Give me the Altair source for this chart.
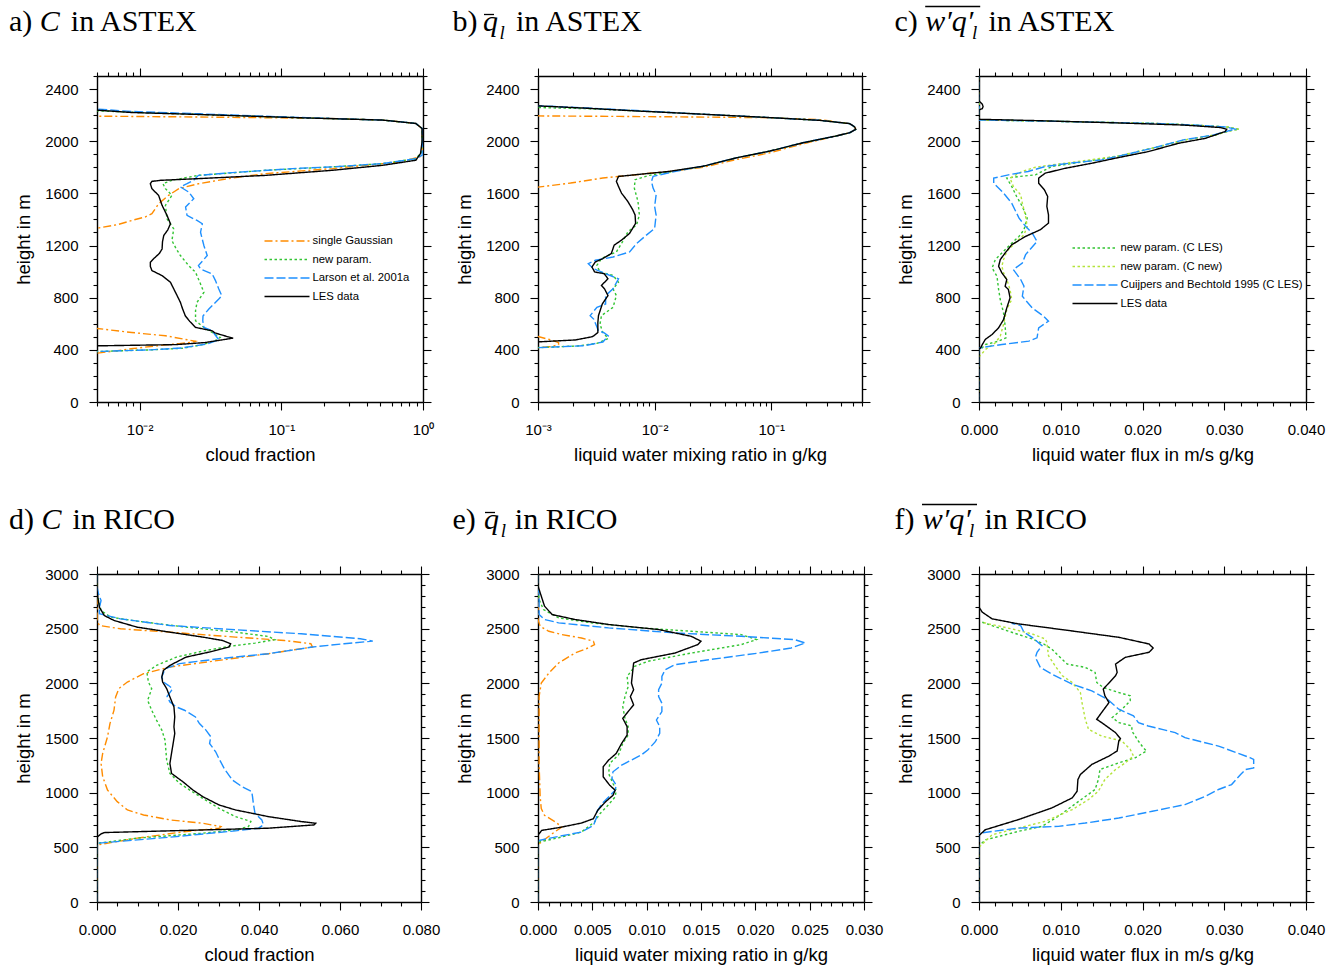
import altair as alt
import pandas as pd

# ---------------- colours / styles ----------------
ORANGE = "#FF8C00"
GREEN = "#33C433"
BLUE = "#1E90FF"
YGREEN = "#B4E33A"
BLACK = "#000000"
DASH_DOT = [8, 3, 2, 3]
DOT = [2.5, 2.5]
DASH = [9, 3]
SOLID = [1, 0]

# ---------------- a) cloud fraction, ASTEX (log x) ----------------
A_GAUSS_H = [360, 374, 390, 410, 430, 448, 460, 466, 480, 508, 533, 564, 585,
             1300, 1333, 1360, 1392, 1420, 1444, 1520, 1585, 1636, 1674, 1718, 1751, 1790, 1841, 1880, 1920,
             2097, 2136, 2162, 2174, 2185, 2192, 2195]
A_GAUSS_V = [0.003, 0.005, 0.0065, 0.009, 0.013, 0.019, 0.024, 0.0248, 0.021, 0.0152, 0.0088, 0.005, 0.001,
             0.001, 0.005, 0.007, 0.0088, 0.011, 0.0122, 0.0136, 0.016, 0.0189, 0.026, 0.045, 0.077, 0.23, 0.68, 0.95, 0.985,
             0.985, 0.89, 0.52, 0.23, 0.03, 0.005, 0.003]
A_NEW_H = [375, 387, 400, 412, 440, 469, 495, 533, 572, 623, 700, 764, 841, 905, 995, 1046, 1123, 1180, 1238,
           1328, 1405, 1508, 1585, 1636, 1674, 1700, 1738, 1777, 1803, 1828, 1866, 1918, 1995, 2097, 2136, 2162,
           2180, 2205, 2222, 2233, 2245]
A_NEW_V = [0.002, 0.005, 0.012, 0.02, 0.028, 0.034, 0.037, 0.0325, 0.0284, 0.0248, 0.0248, 0.0254, 0.0284, 0.0269,
           0.0248, 0.0222, 0.0194, 0.018, 0.0169, 0.0174, 0.0156, 0.0152, 0.0169, 0.0152, 0.0146, 0.0169, 0.026,
           0.0775, 0.23, 0.52, 0.89, 0.98, 0.985, 0.985, 0.89, 0.52, 0.133, 0.026, 0.0088, 0.005, 0.003]
A_LARSON_H = [375, 387, 400, 415, 445, 477, 546, 572, 623, 660, 713, 790, 815, 867, 931, 982, 1020, 1046, 1123,
              1200, 1302, 1367, 1392, 1431, 1495, 1559, 1610, 1649, 1674, 1700, 1738, 1759, 1790, 1803, 1828, 1866,
              1892, 1995, 2097, 2136, 2162, 2182, 2210, 2228, 2246, 2255]
A_LARSON_V = [0.002, 0.005, 0.012, 0.02, 0.03, 0.0362, 0.0325, 0.0284, 0.0279, 0.028, 0.0308, 0.0362, 0.038,
              0.0362, 0.0343, 0.0325, 0.0269, 0.026, 0.030, 0.0284, 0.0269, 0.0277, 0.0254, 0.0216, 0.0211, 0.0241,
              0.0222, 0.0194, 0.0216, 0.024, 0.026, 0.045, 0.12, 0.23, 0.52, 0.89, 0.985, 0.99, 0.99, 0.89, 0.52,
              0.133, 0.026, 0.0088, 0.005, 0.003]
A_LES_H = [425, 432, 440, 456, 490, 500, 530, 546, 572, 620, 661, 720, 764, 841, 918, 969, 1008, 1040, 1072, 1097,
           1140, 1174, 1230, 1277, 1320, 1367, 1431, 1508, 1585, 1636, 1674, 1692, 1700, 1713, 1738, 1777, 1815,
           1854, 1905, 1995, 2097, 2136, 2162, 2180, 2205, 2220, 2238, 2250]
A_LES_V = [0.002, 0.006, 0.018, 0.029, 0.0457, 0.042, 0.034, 0.0325, 0.0248, 0.0225, 0.021, 0.020, 0.0194, 0.0179,
           0.0165, 0.0144, 0.0122, 0.0119, 0.0119, 0.0125, 0.0138, 0.0144, 0.0145, 0.0148, 0.0158, 0.0165, 0.0156,
           0.0144, 0.0136, 0.0122, 0.0119, 0.0122, 0.014, 0.0261, 0.0775, 0.2296, 0.519, 0.89, 0.96, 0.985, 0.985,
           0.89, 0.52, 0.133, 0.026, 0.0088, 0.005, 0.003]

# ---------------- b) liquid water, ASTEX (log x) ----------------
B_GAUSS_H = [410, 417, 425, 440, 456, 475, 502, 510,
             1640, 1648, 1679, 1718, 1743, 1769, 1800, 1859, 1911, 1980, 2040, 2065, 2090, 2109, 2135, 2165, 2180,
             2186, 2190, 2194, 2196]
B_GAUSS_V = [0.0008, 0.001, 0.0013, 0.0015, 0.0015, 0.0013, 0.001, 0.0008,
             0.0008, 0.001, 0.0019, 0.0036, 0.0069, 0.0135, 0.026, 0.05, 0.097, 0.187, 0.36, 0.47, 0.53, 0.52, 0.47,
             0.26, 0.097, 0.02, 0.005, 0.001, 0.0008]
B_NEW_H = [410, 417, 430, 450, 487, 533, 597, 662, 726, 816, 868, 919, 971, 997, 1048, 1100, 1151, 1228, 1305, 1357,
           1434, 1537, 1640, 1705, 1738, 1764, 1808, 1872, 1924, 1988, 2040, 2065, 2090, 2109, 2135, 2160, 2181,
           2207, 2232, 2250, 2258, 2265]
B_NEW_V = [0.0008, 0.001, 0.0022, 0.0032, 0.004, 0.0036, 0.0034, 0.0035, 0.0044, 0.0047, 0.0044, 0.0049, 0.0044,
           0.0034, 0.0032, 0.0035, 0.0047, 0.0053, 0.0059, 0.007, 0.0074, 0.0072, 0.0067, 0.0068, 0.009, 0.0135,
           0.026, 0.05, 0.097, 0.187, 0.36, 0.47, 0.53, 0.52, 0.47, 0.26, 0.097, 0.026, 0.007, 0.0026, 0.001, 0.0008]
B_LARSON_H = [410, 417, 432, 460, 507, 530, 546, 636, 662, 726, 752, 816, 868, 945, 984, 1022, 1061, 1087, 1112,
              1151, 1215, 1280, 1331, 1434, 1499, 1589, 1640, 1692, 1730, 1756, 1790, 1808, 1872, 1924, 1988, 2040,
              2065, 2090, 2109, 2135, 2160, 2181, 2207, 2235, 2255, 2272, 2280]
B_LARSON_V = [0.0008, 0.001, 0.0025, 0.0036, 0.004, 0.0037, 0.0033, 0.003, 0.0028, 0.0032, 0.0038, 0.0038, 0.0044,
              0.0049, 0.0038, 0.003, 0.0027, 0.0031, 0.0044, 0.0061, 0.007, 0.0085, 0.01, 0.0103, 0.01, 0.0103,
              0.0097, 0.0094, 0.0097, 0.013, 0.02, 0.026, 0.05, 0.097, 0.187, 0.36, 0.47, 0.53, 0.52, 0.47, 0.26,
              0.097, 0.026, 0.007, 0.0026, 0.001, 0.0008]
B_LES_H = [455, 461, 476, 500, 507, 533, 610, 662, 752, 816, 868, 894, 945, 984, 997, 1035, 1074, 1100, 1138, 1203,
           1241, 1293, 1370, 1434, 1473, 1537, 1602, 1653, 1692, 1730, 1743, 1769, 1808, 1872, 1924, 1988, 2040,
           2065, 2090, 2109, 2135, 2160, 2181, 2207, 2232, 2253, 2271, 2280]
B_LES_V = [0.0008, 0.001, 0.0021, 0.0029, 0.003, 0.00326, 0.00326, 0.0033, 0.00356, 0.00398, 0.00372, 0.0035,
           0.00398, 0.0037, 0.00306, 0.0029, 0.0031, 0.0036, 0.00425, 0.0045, 0.0052, 0.0061, 0.00687, 0.0068,
           0.0065, 0.0059, 0.0052, 0.0049, 0.0047, 0.0049, 0.0069, 0.0135, 0.026, 0.05, 0.097, 0.187, 0.36, 0.47,
           0.53, 0.52, 0.47, 0.26, 0.097, 0.026, 0.007, 0.0026, 0.001, 0.0008]

# ---------------- c) liquid water flux, ASTEX ----------------
C_NEWLES_H = [0, 395, 403, 441, 467, 492, 582, 684, 786, 862, 964, 1028, 1092, 1143, 1206, 1270, 1321, 1410, 1500,
              1576, 1653, 1717, 1729, 1742, 1780, 1806, 1844, 1887, 1946, 2010, 2048, 2086, 2091, 2108, 2125, 2137,
              2153, 2163, 2500]
C_NEWLES_V = [0, 0, 0.0002, 0.0008, 0.0024, 0.0033, 0.0032, 0.003, 0.0026, 0.0024, 0.0022, 0.0016, 0.002, 0.0028,
              0.0038, 0.0049, 0.0055, 0.0059, 0.0053, 0.0046, 0.004, 0.0034, 0.0049, 0.0069, 0.0081, 0.0089, 0.013,
              0.0171, 0.0212, 0.0252, 0.0289, 0.0311, 0.0318, 0.0305, 0.026, 0.0212, 0.0089, 0, 0]
C_NEWNEW_H = [0, 345, 352, 403, 454, 505, 594, 709, 786, 862, 939, 990, 1041, 1092, 1155, 1219, 1283, 1347, 1423,
              1525, 1589, 1653, 1717, 1768, 1800, 1810, 1852, 1887, 1946, 2010, 2048, 2086, 2091, 2108, 2125, 2137,
              2153, 2163, 2500]
C_NEWNEW_V = [0, 0, 0.0001, 0.0008, 0.002, 0.0026, 0.003, 0.0034, 0.004, 0.0038, 0.0034, 0.003, 0.0028, 0.003,
              0.0034, 0.0044, 0.0055, 0.0059, 0.0057, 0.0053, 0.0051, 0.0042, 0.0038, 0.0053, 0.0069, 0.008, 0.013,
              0.0171, 0.0212, 0.0252, 0.0289, 0.0311, 0.0318, 0.0305, 0.026, 0.0212, 0.0089, 0, 0]
C_CB_H = [0, 410, 416, 441, 467, 492, 569, 620, 658, 722, 811, 888, 939, 1015, 1066, 1130, 1232, 1296, 1347, 1410,
          1525, 1602, 1678, 1717, 1742, 1768, 1806, 1831, 1857, 1900, 1946, 2010, 2048, 2086, 2091, 2108, 2125,
          2137, 2153, 2163, 2500]
C_CB_V = [0, 0, 0.0002, 0.0028, 0.0061, 0.0071, 0.0073, 0.0085, 0.0079, 0.0065, 0.0053, 0.0055, 0.0051, 0.0042,
          0.0053, 0.0057, 0.0071, 0.0065, 0.0057, 0.0049, 0.004, 0.003, 0.0018, 0.0018, 0.0036, 0.006, 0.0081,
          0.011, 0.015, 0.0181, 0.0212, 0.025, 0.0287, 0.0309, 0.0315, 0.0303, 0.026, 0.0212, 0.0089, 0, 0]
C_LES_H = [0, 405, 416, 440, 480, 518, 569, 632, 722, 798, 862, 888, 939, 990, 1041, 1092, 1143, 1206, 1270, 1321,
           1372, 1436, 1500, 1576, 1627, 1678, 1717, 1755, 1793, 1831, 1875, 1920, 1984, 2022, 2074, 2092, 2105,
           2124, 2140, 2158, 2168, 2239, 2250, 2265, 2285, 2303, 2310, 2500]
C_LES_V = [0, 0, 0.0002, 0.0004, 0.00077, 0.0016, 0.0024, 0.003, 0.0034, 0.0038, 0.0036, 0.0032, 0.0034, 0.0028,
           0.0024, 0.0026, 0.0032, 0.004, 0.0057, 0.0075, 0.0085, 0.0085, 0.0083, 0.0084, 0.008, 0.0073, 0.0073,
           0.0081, 0.0106, 0.0138, 0.0171, 0.0207, 0.0244, 0.0277, 0.0301, 0.0303, 0.0295, 0.025, 0.0171, 0.0069,
           0, 0, 0.0004, 0.0005, 0.0004, 0.0001, 0, 0]

# ---------------- d) cloud fraction, RICO ----------------
D_GAUSS_H = [0, 515, 523, 584, 645, 675, 690, 720, 751, 796, 842, 918, 1024, 1146, 1268, 1359, 1511, 1632, 1754,
             1876, 1952, 2012, 2088, 2149, 2210, 2271, 2332, 2362, 2392, 2423, 2468, 2499, 2529, 2575, 3000]
D_GAUSS_V = [0, 0, 0.0003, 0.0099, 0.022, 0.0301, 0.0306, 0.0261, 0.018, 0.0115, 0.0075, 0.005, 0.0026, 0.0014,
             0.001, 0.0014, 0.0026, 0.0032, 0.0042, 0.0046, 0.0054, 0.0075, 0.0115, 0.018, 0.0301, 0.0423, 0.0532,
             0.0528, 0.0463, 0.0342, 0.018, 0.0058, 0.0006, 0, 0]
D_NEW_H = [0, 530, 538, 584, 629, 660, 690, 736, 781, 857, 948, 1024, 1085, 1176, 1298, 1389, 1480, 1572, 1663, 1754,
           1845, 1906, 1952, 2012, 2104, 2164, 2240, 2295, 2338, 2368, 2399, 2429, 2468, 2514, 2569, 2605, 2666,
           2788, 2850, 3000]
D_NEW_V = [0, 0, 0.0003, 0.0099, 0.0261, 0.0342, 0.0374, 0.038, 0.0342, 0.0301, 0.0261, 0.0229, 0.0204, 0.018,
           0.0172, 0.017, 0.0168, 0.016, 0.0147, 0.0135, 0.0125, 0.0131, 0.0135, 0.0127, 0.0123, 0.0147, 0.0196,
           0.0261, 0.0326, 0.039, 0.0439, 0.0423, 0.0342, 0.022, 0.0099, 0.0034, 0.001, 0.0002, 0, 0]
D_LARSON_H = [0, 530, 538, 593, 651, 675, 705, 751, 812, 903, 964, 1009, 1055, 1116, 1222, 1313, 1374, 1435, 1450,
              1511, 1572, 1632, 1693, 1754, 1784, 1830, 1882, 1936, 1952, 1982, 2012, 2058, 2134, 2180, 2225, 2271,
              2332, 2362, 2386, 2408, 2453, 2490, 2529, 2590, 2636, 2696, 2757, 2818, 2879, 3000]
D_LARSON_V = [0, 0, 0.0003, 0.018, 0.0342, 0.0399, 0.0411, 0.0407, 0.039, 0.0386, 0.0384, 0.0382, 0.0358, 0.0334,
              0.0314, 0.0301, 0.0293, 0.0281, 0.0278, 0.0281, 0.0269, 0.0253, 0.0243, 0.0216, 0.0196, 0.018, 0.0173,
              0.0184, 0.0186, 0.0176, 0.0164, 0.016, 0.0168, 0.0204, 0.0301, 0.0423, 0.0532, 0.061, 0.0681, 0.065,
              0.0504, 0.0342, 0.018, 0.0058, 0.0006, 0.0006, 0.001, 0.0004, 0, 0]
D_LES_H = [0, 590, 599, 623, 635, 651, 675, 705, 720, 736, 781, 812, 842, 888, 964, 1024, 1100, 1176, 1268, 1359,
           1450, 1541, 1602, 1693, 1784, 1876, 1952, 2012, 2058, 2119, 2164, 2240, 2286, 2332, 2362, 2392, 2423,
           2468, 2514, 2575, 2620, 2696, 2788, 2850, 3000]
D_LES_V = [0, 0, 0.0002, 0.001, 0.0018, 0.018, 0.0423, 0.0536, 0.054, 0.0504, 0.0423, 0.0382, 0.0342, 0.0301,
           0.0261, 0.0237, 0.0212, 0.0184, 0.018, 0.0184, 0.0188, 0.0192, 0.019, 0.0192, 0.019, 0.018, 0.0172,
           0.0162, 0.016, 0.0164, 0.018, 0.022, 0.0277, 0.0326, 0.033, 0.031, 0.0261, 0.018, 0.0099, 0.0042, 0.0018,
           0.0006, 0.0002, 0, 0]

# ---------------- e) liquid water, RICO ----------------
E_GAUSS_H = [0, 525, 533, 624, 686, 732, 793, 854, 961, 1267, 1879, 2002, 2094, 2186, 2277, 2323, 2354, 2385, 2415,
             2446, 2476, 2522, 2583, 3000]
E_GAUSS_V = [0, 0, 0.0001, 0.0013, 0.0022, 0.0016, 0.0006, 0.0003, 0.0002, 0.0001, 0.0001, 0.0003, 0.001, 0.0019,
             0.0034, 0.0046, 0.0052, 0.0051, 0.004, 0.0022, 0.001, 0.0002, 0, 0]
E_NEW_H = [0, 540, 548, 588, 640, 732, 808, 869, 961, 1022, 1084, 1175, 1267, 1344, 1451, 1527, 1604, 1680, 1788,
           1879, 1971, 2063, 2155, 2201, 2277, 2354, 2400, 2446, 2476, 2507, 2553, 2599, 2675, 2767, 2850, 3000]
E_NEW_V = [0, 0, 0.0001, 0.0019, 0.004, 0.0052, 0.0057, 0.0063, 0.0071, 0.0072, 0.0069, 0.0065, 0.0066, 0.0074,
           0.0078, 0.0083, 0.0083, 0.008, 0.0078, 0.008, 0.0083, 0.0082, 0.0089, 0.0101, 0.0141, 0.0187, 0.0201,
           0.0187, 0.0141, 0.0095, 0.0049, 0.0019, 0.0005, 0.0001, 0, 0]
E_LARSON_H = [0, 555, 563, 600, 640, 701, 777, 823, 900, 961, 1022, 1068, 1130, 1191, 1252, 1298, 1344, 1390, 1466,
              1543, 1604, 1665, 1742, 1818, 1879, 1941, 2002, 2063, 2124, 2170, 2216, 2277, 2323, 2369, 2400, 2430,
              2461, 2507, 2553, 2584, 2629, 2828, 2850, 3000]
E_LARSON_V = [0, 0, 0.0001, 0.0019, 0.004, 0.0051, 0.0054, 0.0054, 0.0059, 0.0065, 0.0071, 0.0072, 0.0068, 0.0069,
              0.0077, 0.0086, 0.0095, 0.0101, 0.0108, 0.0112, 0.0112, 0.0109, 0.0114, 0.0114, 0.0111, 0.0111, 0.0114,
              0.0114, 0.0117, 0.0126, 0.0157, 0.0203, 0.0233, 0.0246, 0.0236, 0.0187, 0.0126, 0.0065, 0.0019, 0.0006,
              0.0001, 0.0001, 0, 0]
E_LES_H = [0, 615, 624, 655, 680, 722, 762, 839, 915, 976, 1022, 1068, 1145, 1237, 1298, 1359, 1451, 1527, 1604, 1680,
           1742, 1803, 1879, 1941, 2002, 2094, 2186, 2216, 2277, 2354, 2385, 2430, 2492, 2538, 2584, 2629, 2706,
           2798, 2890, 3000]
E_LES_V = [0, 0, 0.0001, 0.00034, 0.0019, 0.004, 0.0051, 0.0055, 0.0062, 0.0069, 0.0071, 0.0066, 0.006, 0.006,
           0.0065, 0.0072, 0.0077, 0.0082, 0.0082, 0.0078, 0.0083, 0.0088, 0.0085, 0.0088, 0.0086, 0.0087, 0.0088,
           0.0095, 0.0126, 0.0147, 0.015, 0.0141, 0.0111, 0.0065, 0.0034, 0.0013, 0.0006, 0.0003, 0, 0]

# ---------------- f) liquid water flux, RICO ----------------
F_NEWLES_H = [0, 515, 523, 569, 646, 692, 784, 921, 1029, 1120, 1212, 1273, 1319, 1381, 1411, 1472, 1564, 1610,
              1641, 1687, 1763, 1840, 1886, 1916, 1962, 2008, 2100, 2146, 2176, 2253, 2314, 2360, 2406, 2467, 2528,
              2559]
F_NEWLES_V = [0, 0, 0.0001, 0.0008, 0.0048, 0.0077, 0.0097, 0.0122, 0.0142, 0.0146, 0.0148, 0.0171, 0.0191, 0.0205,
              0.0201, 0.0195, 0.0187, 0.0187, 0.0171, 0.0163, 0.0175, 0.0185, 0.0185, 0.0171, 0.0152, 0.0144, 0.0142,
              0.013, 0.0108, 0.0097, 0.0089, 0.0079, 0.0065, 0.004, 0.0016, 0.0004]
F_NEWNEW_H = [0, 500, 508, 615, 676, 738, 845, 937, 1013, 1120, 1212, 1273, 1335, 1396, 1472, 1518, 1579, 1671, 1824,
              1916, 2008, 2069, 2161, 2253, 2375, 2406, 2452, 2498, 2544, 2559]
F_NEWNEW_V = [0, 0, 0.0001, 0.0016, 0.0048, 0.0081, 0.0114, 0.0134, 0.0146, 0.0154, 0.0167, 0.0179, 0.0189, 0.0185,
              0.0175, 0.015, 0.0134, 0.013, 0.0126, 0.0124, 0.0114, 0.0102, 0.0093, 0.0085, 0.0083, 0.0081, 0.0065,
              0.004, 0.0012, 0.0004]
F_CB_H = [0, 620, 631, 676, 692, 722, 768, 830, 891, 967, 1029, 1074, 1166, 1212, 1227, 1304, 1319, 1426, 1503, 1549,
          1579, 1610, 1641, 1702, 1763, 1855, 1931, 1993, 2085, 2146, 2238, 2284, 2345, 2421, 2467, 2528, 2550]
F_CB_V = [0, 0, 0.0002, 0.0048, 0.0097, 0.013, 0.0171, 0.0212, 0.0252, 0.0277, 0.0293, 0.0309, 0.032, 0.0326,
          0.0336, 0.0336, 0.0332, 0.0293, 0.0252, 0.024, 0.0224, 0.0207, 0.0195, 0.0189, 0.0171, 0.0157, 0.0138,
          0.0114, 0.0089, 0.0075, 0.0069, 0.0071, 0.0077, 0.0065, 0.0055, 0.0051, 0.004]
F_LES_H = [0, 605, 615, 661, 753, 860, 952, 1013, 1120, 1166, 1258, 1335, 1381, 1472, 1494, 1549, 1641, 1671, 1733,
           1824, 1886, 1947, 2069, 2100, 2176, 2238, 2284, 2323, 2360, 2421, 2483, 2544, 2590, 2651, 2697, 3000]
F_LES_V = [0, 0, 0.0001, 0.00077, 0.0048, 0.0089, 0.0114, 0.012, 0.0121, 0.0124, 0.0138, 0.0159, 0.0169, 0.0171,
           0.0173, 0.0167, 0.015, 0.0144, 0.015, 0.0159, 0.0154, 0.0152, 0.0167, 0.0169, 0.0167, 0.0179, 0.0208,
           0.0213, 0.0208, 0.0171, 0.011, 0.0048, 0.0016, 0.0004, 0, 0]

# ---------------- labels ----------------
N_GAUSS = "single Gaussian"
N_NEW = "new param."
N_LARSON = "Larson et al. 2001a"
N_LES = "LES data"
N_NEWLES = "new param. (C LES)"
N_NEWNEW = "new param. (C new)"
N_CB = "Cuijpers and Bechtold 1995 (C LES)"

# panel titles: pieces (text, italic, font size, x offset, baseline shift)
T_A = [("a)", False, 30, 0, 0), ("C", True, 30, 30.8, 0), ("in ASTEX", False, 30, 61.8, 0)]
T_B = [("b)", False, 30, 0, 0), ("q", True, 30, 30.5, 0), ("l", True, 19, 47.0, 8), ("in ASTEX", False, 30, 63.5, 0)]
T_C = [("c)", False, 30, 0, 0), ("w\u2032q\u2032", True, 30, 30.7, 0), ("l", True, 19, 77.5, 8),
       ("in ASTEX", False, 30, 94, 0)]
T_D = [("d)", False, 30, 0, 0), ("C", True, 30, 32.5, 0), ("in RICO", False, 30, 63.5, 0)]
T_E = [("e)", False, 30, 0, 0), ("q", True, 30, 31.6, 0), ("l", True, 19, 48.3, 8), ("in RICO", False, 30, 62.3, 0)]
T_F = [("f)", False, 30, 0, 0), ("w\u2032q\u2032", True, 30, 28.3, 0), ("l", True, 19, 74.5, 8),
       ("in RICO", False, 30, 90, 0)]
BAR_B = (31.5, 41.5, -16)      # macron over q
BAR_E = (32.5, 42.5, -16)
BAR_C = (30.7, 85.7, -24)      # overline over w'q'_l
BAR_F = (27.5, 82.5, -24)

SANS = "Liberation Sans"
SERIF = "Liberation Serif"
TITLE_BASE_Y = -45.5


def build_df(series):
    rows = []
    for name, hs, vs in series:
        for i, (h, v) in enumerate(zip(hs, vs)):
            rows.append({"h": h, "v": v, "s": name, "o": i})
    return pd.DataFrame(rows)


def lin_vals(stop, step):
    n = int(round(stop / step))
    return [round(i * step, 6) for i in range(n + 1)]


def log_vals(lo, hi):
    out = []
    for e in range(-4, 1):
        for k in range(1, 10):
            v = float(f"{k}e{e}")
            if lo - 1e-12 <= v <= hi + 1e-12:
                out.append(v)
    return out


def lin_test(step):
    return f"abs(datum.value/{step} - round(datum.value/{step})) < 1e-6"


LOG_TEST = "abs(log(datum.value)/LN10 - round(log(datum.value)/LN10)) < 1e-6"


def tick_size(test):
    return {"condition": {"test": test, "value": 8}, "value": 4}


def axis_common(values, test):
    return dict(values=values, tickSize=tick_size(test), tickColor="black", tickWidth=1.1,
                domainColor="black", domainWidth=1.4, grid=False)


def title_layers(pieces, bar, x0):
    layers = []
    for text, italic, size, dx, dy in pieces:
        layers.append(
            alt.Chart(pd.DataFrame({"t": [text]})).mark_text(
                align="left", baseline="alphabetic", font=SERIF, fontSize=size,
                fontStyle="italic" if italic else "normal", color="black",
            ).encode(text="t:N", x=alt.value(x0 + dx), y=alt.value(TITLE_BASE_Y + dy))
        )
    if bar is not None:
        layers.append(
            alt.Chart(pd.DataFrame({"t": [0]})).mark_rule(color="black", strokeWidth=1.3).encode(
                x=alt.value(x0 + bar[0]), x2=alt.value(x0 + bar[1]), y=alt.value(TITLE_BASE_Y + bar[2]))
        )
    return layers


def panel(series, names, colors, dashes, xscale, xvals, xtest, xlabel_expr, xtitle,
          yscale, yvals, ytest, tpieces, tbar, tx0, legend=None, width=326, height=326):
    df = build_df(series)
    xb = alt.Axis(orient="bottom", labelExpr=xlabel_expr, labelFont=SANS, labelFontSize=15, labelColor="black",
                  labelPadding=12, labelOverlap=False, labelFlush=False, labelBound=False,
                  title=xtitle, titleFont=SANS, titleFontSize=18.5, titleFontWeight="normal",
                  titleColor="black", titlePadding=8, **axis_common(xvals, xtest))
    yl = alt.Axis(orient="left", labelExpr="(" + ytest + ") ? format(datum.value, 'd') : ''",
                  labelFont=SANS, labelFontSize=15, labelColor="black", labelPadding=11,
                  labelOverlap=False, labelFlush=False, labelBound=False,
                  title="height in m", titleFont=SANS, titleFontSize=18.5, titleFontWeight="normal",
                  titleColor="black", titlePadding=11, **axis_common(yvals, ytest))
    xt = alt.Axis(orient="top", labels=False, title=None, **axis_common(xvals, xtest))
    yr = alt.Axis(orient="right", labels=False, title=None, **axis_common(yvals, ytest))

    if legend is None:
        leg = None
    else:
        # a long horizontal stroke drawn by a custom path outside the unit square,
        # so that the entry height stays small while the line sample is ~45 px long
        leg = alt.Legend(orient="none", legendX=legend[0], legendY=legend[1], title=None,
                         symbolType="M-2.25,0L2.25,0", symbolSize=400, symbolStrokeWidth=1.5,
                         labelFont=SANS, labelFontSize=11.3, labelColor="black", labelLimit=400,
                         rowPadding=1.5, labelOffset=14.5, padding=0, symbolOffset=0)

    lines = alt.Chart(df).mark_line(clip=True, strokeWidth=1.4).encode(
        x=alt.X("v:Q", scale=xscale, axis=xb),
        y=alt.Y("h:Q", scale=yscale, axis=yl),
        color=alt.Color("s:N", scale=alt.Scale(domain=names, range=colors), legend=leg),
        strokeDash=alt.StrokeDash("s:N", scale=alt.Scale(domain=names, range=dashes), legend=leg),
        order=alt.Order("o:Q"),
    )
    ghost = alt.Chart(df).mark_line(clip=True, strokeOpacity=0).encode(
        x=alt.X("v:Q", scale=xscale, axis=xt),
        y=alt.Y("h:Q", scale=yscale, axis=yr),
        detail="s:N",
        order=alt.Order("o:Q"),
    )
    return alt.layer(lines, ghost, *title_layers(tpieces, tbar, tx0)).resolve_axis(
        x="independent", y="independent").properties(width=width, height=height)


names_ab = [N_GAUSS, N_NEW, N_LARSON, N_LES]
cols_ab = [ORANGE, GREEN, BLUE, BLACK]
dash_ab = [DASH_DOT, DOT, DASH, SOLID]
names_cf = [N_NEWLES, N_NEWNEW, N_CB, N_LES]
cols_cf = [GREEN, YGREEN, BLUE, BLACK]
dash_cf = [DOT, DOT, DASH, SOLID]

y_astex = alt.Scale(domain=[0, 2500], nice=False, zero=False)
y_rico = alt.Scale(domain=[0, 3000], nice=False, zero=False)
yv_astex = lin_vals(2500, 100)
yv_rico = lin_vals(3000, 100)
yt_astex = lin_test(400)
yt_rico = lin_test(500)


def log_label(exps):
    m = {0: "10\u2070", -1: "10\u207b\u00b9", -2: "10\u207b\u00b2", -3: "10\u207b\u00b3"}
    e = "round(log(datum.value)/LN10)"
    expr = "''"
    for k in exps:
        expr = f"({e} == {k} ? '{m[k]}' : {expr})"
    return f"({LOG_TEST}) ? {expr} : ''"


def lin_label(step):
    return f"({lin_test(step)}) ? format(datum.value, '.3f') : ''"


X0_COL1, X0_COL2, X0_COL3 = -88, -85.5, -84.5

pa = panel([(N_GAUSS, A_GAUSS_H, A_GAUSS_V), (N_NEW, A_NEW_H, A_NEW_V), (N_LARSON, A_LARSON_H, A_LARSON_V),
            (N_LES, A_LES_H, A_LES_V)],
           names_ab, cols_ab, dash_ab,
           alt.Scale(type="log", domain=[0.005, 1], nice=False), log_vals(0.005, 1), LOG_TEST,
           log_label([0, -1, -2]), "cloud fraction",
           y_astex, yv_astex, yt_astex, T_A, None, X0_COL1, legend=(179, 154), width=326)

pb = panel([(N_GAUSS, B_GAUSS_H, B_GAUSS_V), (N_NEW, B_NEW_H, B_NEW_V), (N_LARSON, B_LARSON_H, B_LARSON_V),
            (N_LES, B_LES_H, B_LES_V)],
           names_ab, cols_ab, dash_ab,
           alt.Scale(type="log", domain=[0.001, 0.6], nice=False), log_vals(0.001, 0.6), LOG_TEST,
           log_label([-1, -2, -3]), "liquid water mixing ratio in g/kg",
           y_astex, yv_astex, yt_astex, T_B, BAR_B, X0_COL2, width=324)

pc = panel([(N_NEWLES, C_NEWLES_H, C_NEWLES_V), (N_NEWNEW, C_NEWNEW_H, C_NEWNEW_V), (N_CB, C_CB_H, C_CB_V),
            (N_LES, C_LES_H, C_LES_V)],
           names_cf, cols_cf, dash_cf,
           alt.Scale(domain=[0, 0.04], nice=False, zero=False), lin_vals(0.04, 0.002), lin_test(0.01),
           lin_label(0.01), "liquid water flux in m/s g/kg",
           y_astex, yv_astex, yt_astex, T_C, BAR_C, X0_COL3, legend=(105, 161), width=327)

pd_ = panel([(N_GAUSS, D_GAUSS_H, D_GAUSS_V), (N_NEW, D_NEW_H, D_NEW_V), (N_LARSON, D_LARSON_H, D_LARSON_V),
             (N_LES, D_LES_H, D_LES_V)],
            names_ab, cols_ab, dash_ab,
            alt.Scale(domain=[0, 0.08], nice=False, zero=False), lin_vals(0.08, 0.005), lin_test(0.02),
            lin_label(0.02), "cloud fraction",
            y_rico, yv_rico, yt_rico, T_D, None, X0_COL1, width=324, height=328)

pe = panel([(N_GAUSS, E_GAUSS_H, E_GAUSS_V), (N_NEW, E_NEW_H, E_NEW_V), (N_LARSON, E_LARSON_H, E_LARSON_V),
            (N_LES, E_LES_H, E_LES_V)],
           names_ab, cols_ab, dash_ab,
           alt.Scale(domain=[0, 0.03], nice=False, zero=False), lin_vals(0.03, 0.001), lin_test(0.005),
           lin_label(0.005), "liquid water mixing ratio in g/kg",
           y_rico, yv_rico, yt_rico, T_E, BAR_E, X0_COL2, width=326, height=328)

pf = panel([(N_NEWLES, F_NEWLES_H, F_NEWLES_V), (N_NEWNEW, F_NEWNEW_H, F_NEWNEW_V), (N_CB, F_CB_H, F_CB_V),
            (N_LES, F_LES_H, F_LES_V)],
           names_cf, cols_cf, dash_cf,
           alt.Scale(domain=[0, 0.04], nice=False, zero=False), lin_vals(0.04, 0.002), lin_test(0.01),
           lin_label(0.01), "liquid water flux in m/s g/kg",
           y_rico, yv_rico, yt_rico, T_F, BAR_F, X0_COL3, width=327, height=328)

chart = alt.concat(pa, pb, pc, pd_, pe, pf, columns=3, spacing={"row": 172, "column": 115},
                   bounds="flush", align="each").resolve_scale(
    color="independent", strokeDash="independent"
).properties(
    padding={"left": 9, "top": 5, "right": 5, "bottom": 5},
    background="white",
).configure_view(stroke=None)

chart.save("out.html", embed_options={"renderer": "svg", "actions": False})
